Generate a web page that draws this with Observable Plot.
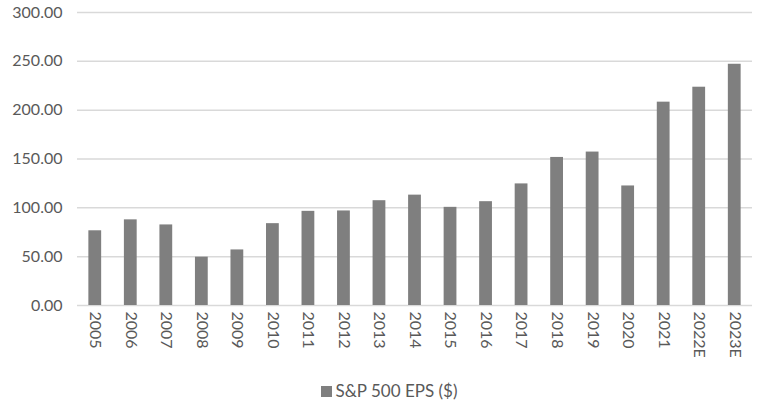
<!DOCTYPE html>
<html>
<head>
<meta charset="utf-8">
<script src="https://cdn.jsdelivr.net/npm/d3@7"></script>
<script src="https://cdn.jsdelivr.net/npm/@observablehq/plot@0.6"></script>
<style>
  html, body { margin: 0; padding: 0; background: #fff; }
  #chart { width: 770px; font-family: Lato, "Open Sans", sans-serif; }
  #chart svg { display: block; }
  #chart svg g[aria-label$="tick label"] { font-size: 16px !important; }
  #chart svg g[aria-label$="tick label"] text { font-size: 16px !important; fill: #595959; }
  .legend { display: flex; justify-content: center; align-items: center; gap: 4px; font-size: 17px; line-height: 22px; height: 22px; color: #595959; margin-top: 10px; margin-left: 8px; }
  .legend .sw { width: 11px; height: 11px; background: #7f7f7f; display: inline-block; }
</style>
</head>
<body>
<div id="chart"></div>
<script>
const years = ["2005","2006","2007","2008","2009","2010","2011","2012","2013","2014","2015","2016","2017","2018","2019","2020","2021","2022E","2023E"];
const eps = [76.5, 87.7, 82.5, 49.5, 56.9, 83.8, 96.4, 96.8, 107.3, 113.0, 100.5, 106.3, 124.5, 151.6, 157.1, 122.4, 208.2, 223.5, 247.0];
const yTicks = [0, 50, 100, 150, 200, 250, 300];
const seriesName = "S&P 500 EPS ($)";

const data = years.map((y, i) => ({year: y, value: eps[i]}));

const plot = Plot.plot({
  width: 770,
  height: 370,
  marginLeft: 77,
  marginRight: 18,
  marginTop: 12,
  marginBottom: 65,
  style: {fontFamily: "Lato, 'Open Sans', sans-serif", fontSize: "16px", color: "#595959", background: "#fff"},
  x: {domain: years, paddingInner: 0.64, paddingOuter: 0.32, round: false, label: null},
  y: {domain: [0, 300], label: null},
  marks: [
    Plot.ruleY(yTicks, {stroke: "#d9d9d9", strokeWidth: 1.5}),
    Plot.barY(data, {x: "year", y: "value", fill: "#7f7f7f"}),
    Plot.axisY({ticks: yTicks, tickFormat: d => d.toFixed(2), tickSize: 0, tickPadding: 15, label: null, fontSize: 16}),
    Plot.axisX({tickRotate: 90, tickSize: 0, tickPadding: 6, label: null, fontSize: 16})
  ]
});
document.getElementById("chart").appendChild(plot);
const lg = document.createElement("div");
lg.className = "legend";
lg.innerHTML = `<span class="sw"></span><span></span>`;
lg.lastChild.textContent = seriesName;
document.getElementById("chart").appendChild(lg);
</script>
</body>
</html>
